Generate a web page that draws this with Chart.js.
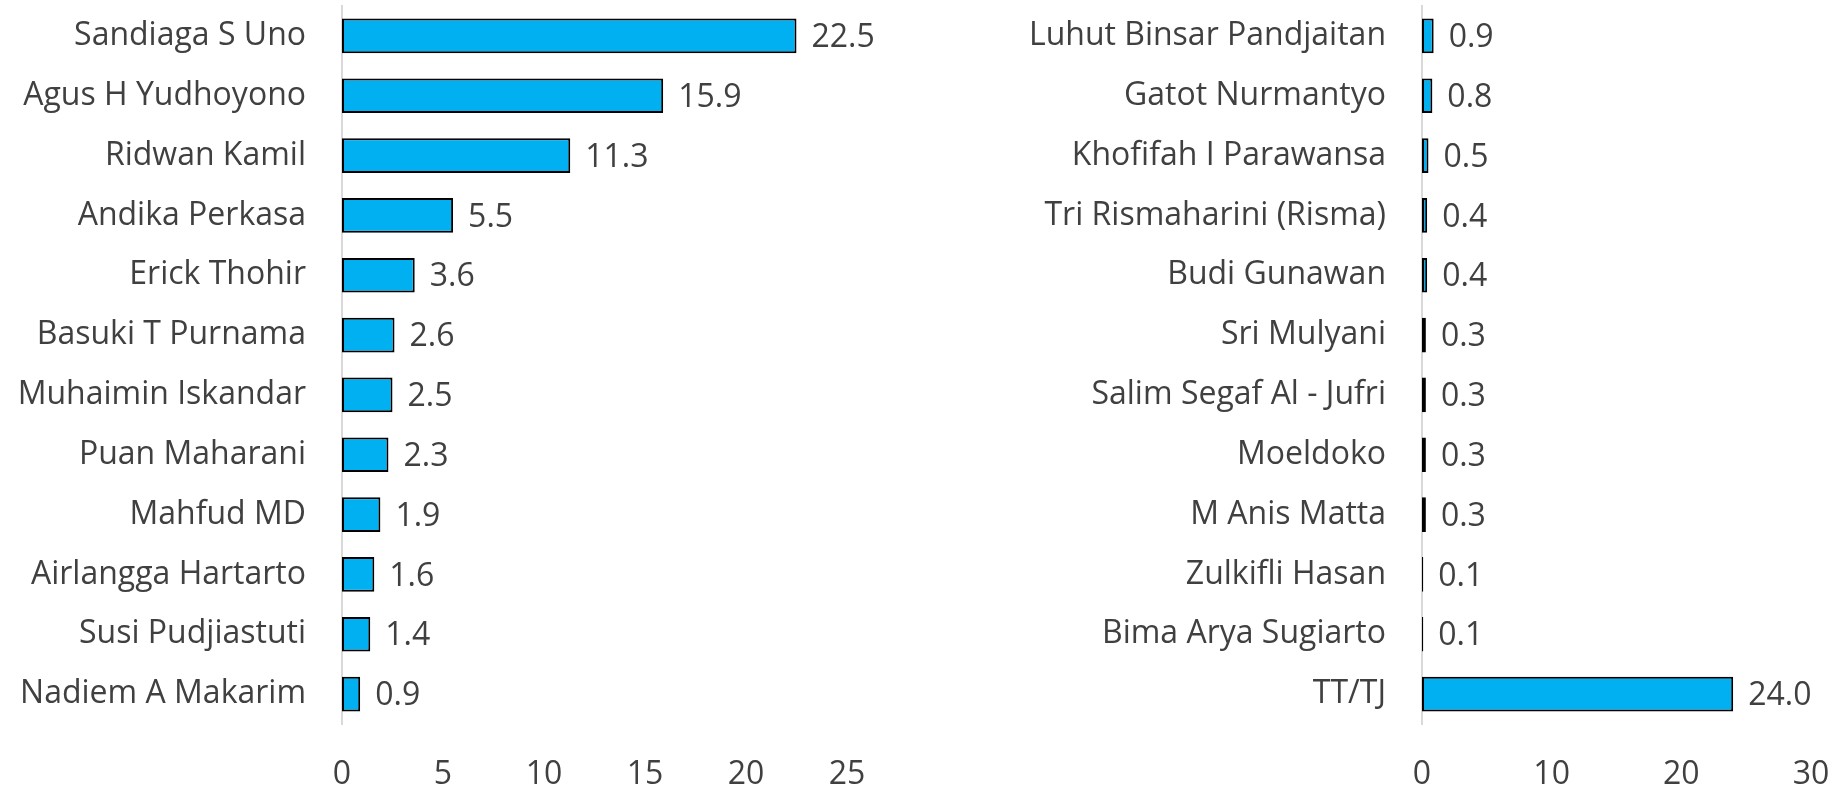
<!DOCTYPE html>
<html>
<head>
<meta charset="utf-8">
<script src="https://cdn.jsdelivr.net/npm/chart.js@4"></script>
<style>
  body { margin: 0; background: #fff; }
  #wrap { position: relative; width: 1839px; height: 788px; }
  canvas { position: absolute; top: 0; }
  #left-chart { left: 0; }
  #right-chart { left: 920px; }
</style>
</head>
<body>
<div id="wrap">
  <canvas id="left-chart" width="920" height="788"></canvas>
  <canvas id="right-chart" width="919" height="788"></canvas>
</div>
<script>
const leftNames = ['Sandiaga S Uno', 'Agus H Yudhoyono', 'Ridwan Kamil', 'Andika Perkasa', 'Erick Thohir',
    'Basuki T Purnama', 'Muhaimin Iskandar', 'Puan Maharani', 'Mahfud MD', 'Airlangga Hartarto',
    'Susi Pudjiastuti', 'Nadiem A Makarim'];
const leftValues = [22.5, 15.9, 11.3, 5.5, 3.6, 2.6, 2.5, 2.3, 1.9, 1.6, 1.4, 0.9];
const leftTicks = [0, 5, 10, 15, 20, 25];

const rightNames = ['Luhut Binsar Pandjaitan', 'Gatot Nurmantyo', 'Khofifah I Parawansa', 'Tri Rismaharini (Risma)',
    'Budi Gunawan', 'Sri Mulyani', 'Salim Segaf Al - Jufri', 'Moeldoko', 'M Anis Matta', 'Zulkifli Hasan',
    'Bima Arya Sugiarto', 'TT/TJ'];
const rightValues = [0.9, 0.8, 0.5, 0.4, 0.4, 0.3, 0.3, 0.3, 0.3, 0.1, 0.1, 24.0];
const rightTicks = [0, 10, 20, 30];

const textColor = '#404040';
const fontFamily = '"Open Sans", sans-serif';
const fontSize = 32;

// draws the value next to the end of each bar
const valueLabels = {
    id: 'valueLabels',
    afterDatasetsDraw(chart) {
        const ctx = chart.ctx;
        const meta = chart.getDatasetMeta(0);
        ctx.save();
        ctx.font = `${fontSize}px ${fontFamily}`;
        ctx.fillStyle = textColor;
        ctx.textAlign = 'left';
        ctx.textBaseline = 'middle';
        meta.data.forEach((bar, i) => {
            const v = chart.data.datasets[0].data[i];
            ctx.fillText(v.toFixed(1), bar.x + 15, bar.y + 2);
        });
        ctx.restore();
    }
};

const makeChart = (id, names, values, ticks, yWidth, padRight) => {
    const ctx = document.getElementById(id).getContext('2d');
    return new Chart(ctx, {
        type: 'bar',
        data: {
            labels: names,
            datasets: [{
                data: values,
                backgroundColor: '#00B0F0',
                borderColor: '#000000',
                borderWidth: 2,
                borderSkipped: false,
                categoryPercentage: 1,
                barPercentage: 0.58
            }]
        },
        options: {
            indexAxis: 'y',
            responsive: false,
            animation: false,
            layout: { padding: { top: 6, right: padRight, bottom: 0, left: 0 } },
            plugins: { legend: { display: false }, tooltip: { enabled: false } },
            scales: {
                x: {
                    min: ticks[0],
                    max: ticks[ticks.length - 1],
                    afterBuildTicks: scale => { scale.ticks = ticks.map(v => ({ value: v })); },
                    afterFit: scale => {
                        scale.height = 64;
                        scale.paddingLeft = 0;
                        scale.paddingRight = 0;
                    },
                    grid: { display: false, drawTicks: false },
                    border: { display: false },
                    ticks: {
                        color: textColor,
                        font: { family: fontFamily, size: fontSize },
                        padding: 32,
                        maxRotation: 0
                    }
                },
                y: {
                    afterFit: scale => {
                        scale.width = yWidth;
                        scale.paddingTop = 0;
                        scale.paddingBottom = 0;
                    },
                    grid: { display: false, drawTicks: false },
                    border: { display: true, color: '#D9D9D9', width: 2 },
                    ticks: {
                        color: textColor,
                        font: { family: fontFamily, size: fontSize },
                        padding: 36
                    }
                }
            }
        },
        plugins: [valueLabels]
    });
};

makeChart('left-chart', leftNames, leftValues, leftTicks, 342, 73);
makeChart('right-chart', rightNames, rightValues, rightTicks, 502, 28);
</script>
</body>
</html>
